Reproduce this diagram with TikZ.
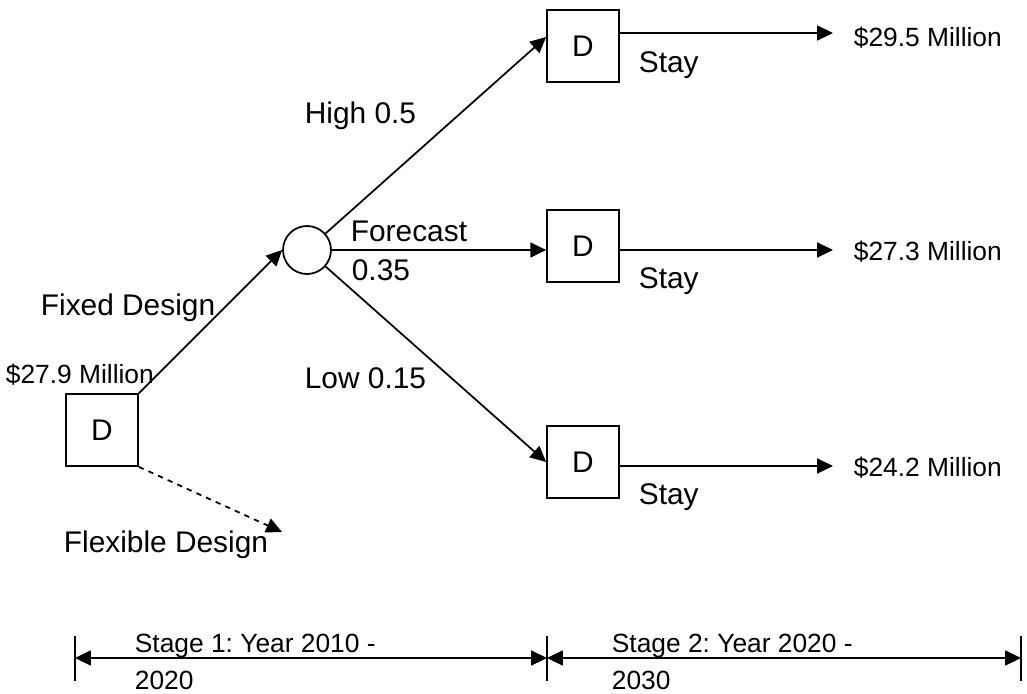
\documentclass[tikz,border=0pt]{standalone}
\usepackage{fontspec}
\setmainfont{Liberation Sans}
\usetikzlibrary{arrows.meta}
\frenchspacing

\begin{document}
\begin{tikzpicture}[
  x=0.02cm, y=-0.02cm,
  line width=1pt,
  decision/.style={draw, minimum size=1.44cm, inner sep=0pt,
    font=\fontsize{17}{20}\selectfont},
  chancenode/.style={draw, circle, minimum size=0.96cm, inner sep=0pt},
  lbl/.style={font=\fontsize{17}{20}\selectfont, inner sep=0pt, anchor=west},
  pay/.style={font=\fontsize{15}{18}\selectfont, inner sep=0pt, anchor=west},
  stage/.style={font=\fontsize{15}{21}\selectfont, align=left,
    inner sep=0pt, anchor=west},
  >={Triangle[length=9pt, width=8.5pt]}
]
\useasboundingbox (0,0) rectangle (1027,693);

% decision and chance nodes
\node[decision] (d0) at (102,430) {D};
\node[chancenode] (chance) at (307,250) {};
\node[decision] (d1) at (583,46) {D};
\node[decision] (d2) at (583,246) {D};
\node[decision] (d3) at (583,462) {D};

% payoff ends
\coordinate (e1) at (833,33);
\coordinate (e2) at (833,250);
\coordinate (e3) at (833,466);
\coordinate (flex) at (282,532);

\node[pay] (p1) at (853,38) {\$29.5 Million};
\node[pay] (p2) at (853,252) {\$27.3 Million};
\node[pay] (p3) at (853,468) {\$24.2 Million};
\node[pay] (p0) at (5,375) {\$27.9 Million};

% branch labels
\node[lbl] (high) at (304,116) {High 0.5};
\node[lbl] (fc) at (350,231) {Forecast};
\node[lbl] (fcp) at (351,270) {0.35};
\node[lbl] (low) at (304,378) {Low 0.15};
\node[lbl] (fixed) at (40,308) {Fixed Design};
\node[lbl] (flexlbl) at (63,545) {Flexible Design};
\node[lbl] (s1) at (638,65) {Stay};
\node[lbl] (s2) at (638,281) {Stay};
\node[lbl] (s3) at (638,497) {Stay};

\draw[->] (d0.north east) -- (chance.west);
\draw[->, dashed] (d0.south east) -- (flex);
\draw[->] (chance) -- ([yshift=0.18cm]d1.west);
\draw[->] (chance.east) -- (d2.west |- chance.east);
\draw[->] (chance) -- (d3.west);
\draw[->] (d1.east |- e1) -- (e1);
\draw[->] (d2.east |- e2) -- (e2);
\draw[->] (d3.east |- e3) -- (e3);

% stages
\coordinate (t0) at (75,658);
\coordinate (t1) at (547,658);
\coordinate (t2) at (1021,658);
\foreach \t in {t0,t1,t2}
  \draw (\t) ++(0,-22) -- ++(0,45);
\draw[<->] (t0) -- (t1);
\draw[<->] (t1) -- (t2);
\node[stage] (st1) at (134,662) {Stage 1: Year 2010 -\\2020};
\node[stage] (st2) at (611,662) {Stage 2: Year 2020 -\\2030};
\end{tikzpicture}
\end{document}
